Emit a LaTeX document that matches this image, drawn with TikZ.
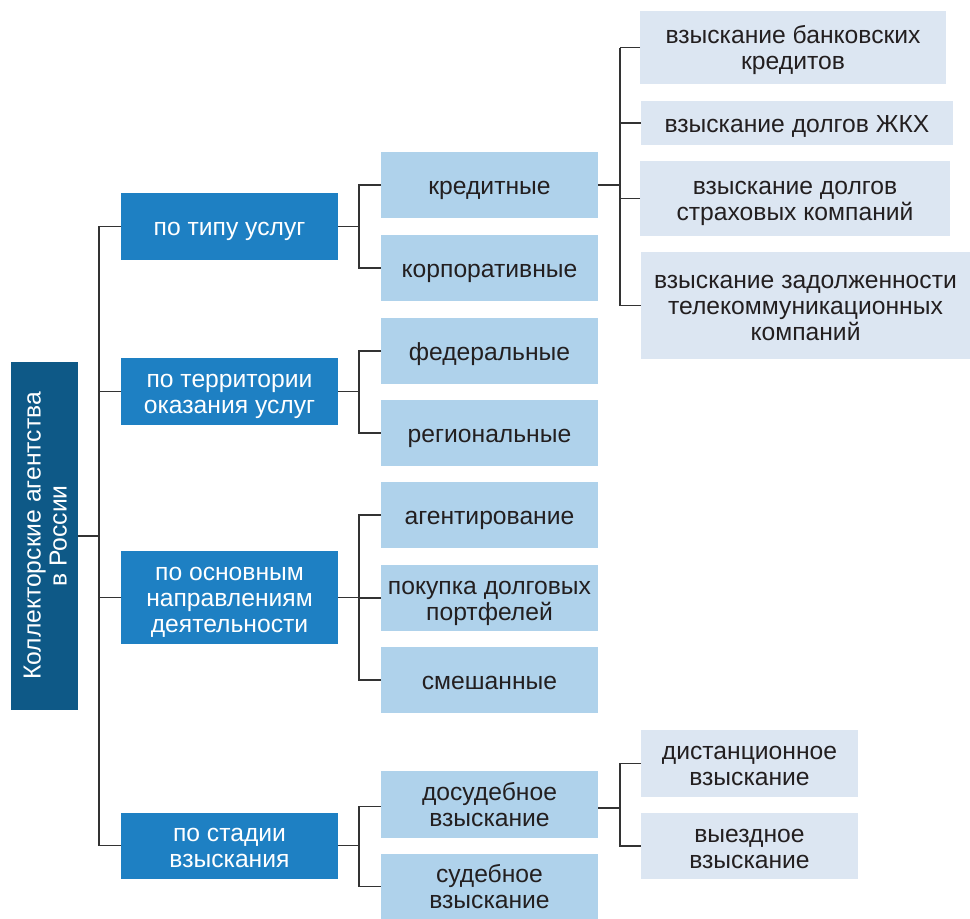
\documentclass[tikz,border=0pt]{standalone}
\usepackage{fontspec}
\setmainfont{Liberation Sans}
\definecolor{rootc}{RGB}{14,89,135}
\definecolor{lonec}{RGB}{30,128,195}
\definecolor{ltwoc}{RGB}{175,210,235}
\definecolor{lthreec}{RGB}{220,230,242}
\definecolor{linec}{RGB}{51,51,51}
\definecolor{txtc}{RGB}{35,31,32}
\newcommand\boxtxt[1]{\begin{tabular}{@{}c@{}}\rule{0pt}{1.08em}#1\end{tabular}}
\tikzset{
  bw/.style={minimum width=#1*0.75pt},
  bh/.style={minimum height=#1*0.75pt},
  basebox/.style={inner sep=0pt, outer sep=0pt,
    font=\fontsize{18.5}{19.5}\selectfont},
  rootbox/.style={inner sep=0pt, outer sep=0pt, fill=rootc},
  roottext/.style={rotate=90, text=white, align=center, inner sep=0pt, font=\fontsize{18.5}{19.5}\selectfont},
  onebox/.style={basebox, fill=lonec, text=white, bw=217},
  twobox/.style={basebox, fill=ltwoc, text=txtc, bw=217, bh=66},
  threebox/.style={basebox, fill=lthreec, text=txtc},
  conn/.style={draw=linec, line width=1.1pt}
}
\begin{document}
\begin{tikzpicture}[x=0.75pt, y=-0.75pt]
\useasboundingbox (0,0) rectangle (970,918);
% root
\node[rootbox, bw=67, bh=348] (root) at (44.5,536) {};
\node[roottext] (roottxt) at ([xshift=0.5pt]root.center) {Коллекторские агентства\\в России};
% level 1
\node[onebox, bh=67] (a1) at (229.5,226.5) {\boxtxt{по типу услуг}};
\node[onebox, bh=67] (a2) at (229.5,391.5) {\boxtxt{по территории\\оказания услуг}};
\node[onebox, bh=93] (a3) at (229.5,597.5) {\boxtxt{по основным\\направлениям\\деятельности}};
\node[onebox, bh=66] (a4) at (229.5,845.5) {\boxtxt{по стадии\\взыскания}};
% level 2
\node[twobox] (b1) at (489.5,185) {\boxtxt{кредитные}};
\node[twobox] (b2) at (489.5,268) {\boxtxt{корпоративные}};
\node[twobox] (b3) at (489.5,351) {\boxtxt{федеральные}};
\node[twobox] (b4) at (489.5,433) {\boxtxt{региональные}};
\node[twobox] (b5) at (489.5,515) {\boxtxt{агентирование}};
\node[twobox] (b6) at (489.5,598) {\boxtxt{покупка долговых\\портфелей}};
\node[twobox] (b7) at (489.5,680) {\boxtxt{смешанные}};
\node[twobox, bh=67] (b8) at (489.5,804.5) {\boxtxt{досудебное\\взыскание}};
\node[twobox, bh=65] (b9) at (489.5,886.5) {\boxtxt{судебное\\взыскание}};
% level 3
\node[threebox, bw=306, bh=73] (c1) at (793,47.5) {\boxtxt{взыскание банковских\\кредитов}};
\node[threebox, bw=312, bh=44] (c2) at (797,123) {\boxtxt{взыскание долгов ЖКХ}};
\node[threebox, bw=310, bh=75] (c3) at (795,198.5) {\boxtxt{взыскание долгов\\страховых компаний}};
\node[threebox, bw=329, bh=107] (c4) at (805.5,305.5) {\boxtxt{взыскание задолженности\\телекоммуникационных\\компаний}};
\node[threebox, bw=217, bh=67] (c5) at (749.5,763.5) {\boxtxt{дистанционное\\взыскание}};
\node[threebox, bw=217, bh=66] (c6) at (749.5,846) {\boxtxt{выездное\\взыскание}};
% bus coordinates
\coordinate (t1) at (99,0);
\coordinate (t2) at (359,0);
\coordinate (t3) at (620,0);
% trunk
\draw[conn] (root.east) -- (root.east -| t1);
\draw[conn] (a1.west) -- (a1.west -| t1) -- (a4.west -| t1) -- (a4.west);
\draw[conn] (a2.west) -- (a2.west -| t1);
\draw[conn] (a3.west) -- (a3.west -| t1);
% level 2 buses
\draw[conn] (a1.east) -- (a1.east -| t2);
\draw[conn] (b1.west) -- (b1.west -| t2) -- (b2.west -| t2) -- (b2.west);
\draw[conn] (a2.east) -- (a2.east -| t2);
\draw[conn] (b3.west) -- (b3.west -| t2) -- (b4.west -| t2) -- (b4.west);
\draw[conn] (a3.east) -- (a3.east -| t2);
\draw[conn] (b5.west) -- (b5.west -| t2) -- (b7.west -| t2) -- (b7.west);
\draw[conn] (b6.west) -- (b6.west -| t2);
\draw[conn] (a4.east) -- (a4.east -| t2);
\draw[conn] ([yshift=-1.5pt]b8.west) -- ([yshift=-1.5pt]b8.west -| t2) -- (b9.west -| t2) -- (b9.west);
% level 3 buses
\draw[conn] (b1.east) -- (b1.east -| t3);
\draw[conn] (c1.west -| t3) -- (c4.west -| t3);
\draw[conn] (c1.west) -- (c1.west -| t3);
\draw[conn] (c2.west) -- (c2.west -| t3);
\draw[conn] (c3.west) -- (c3.west -| t3);
\draw[conn] (c4.west) -- (c4.west -| t3);
\draw[conn] ([yshift=-2.5pt]b8.east) -- ([yshift=-2.5pt]b8.east -| t3);
\draw[conn] (c5.west) -- (c5.west -| t3) -- (c6.west -| t3) -- (c6.west);
\end{tikzpicture}
\end{document}
